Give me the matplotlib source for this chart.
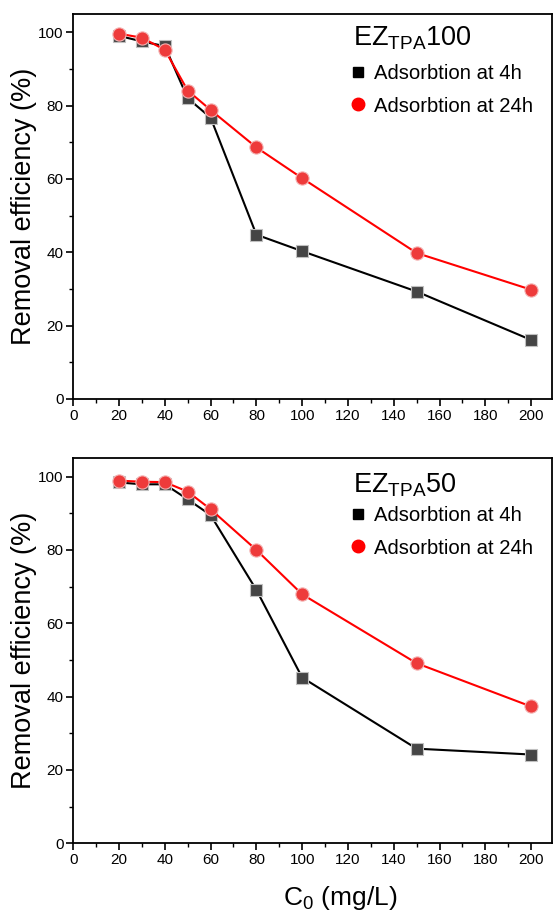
import matplotlib
matplotlib.use('Agg')
import matplotlib.pyplot as plt
from matplotlib.lines import Line2D
from matplotlib.ticker import MultipleLocator

plt.rcParams['font.family'] = ['Liberation Sans', 'DejaVu Sans']
plt.rcParams['mathtext.fontset'] = 'custom'
plt.rcParams['mathtext.rm'] = 'Liberation Sans'
plt.rcParams['mathtext.it'] = 'Liberation Sans'

# initial concentration (mg/L)
c0 = [20, 30, 40, 50, 60, 80, 100, 150, 200]

# EZ_TPA100 removal efficiency (%)
ez100_4h = [99.0, 97.5, 96.2, 82.0, 76.7, 44.8, 40.3, 29.3, 16.1]
ez100_24h = [99.6, 98.5, 95.2, 84.1, 78.8, 68.6, 60.2, 39.8, 29.8]

# EZ_TPA50 removal efficiency (%)
ez50_4h = [98.4, 97.9, 97.9, 93.8, 89.5, 69.1, 45.2, 25.8, 24.2]
ez50_24h = [98.9, 98.6, 98.5, 95.9, 91.1, 80.0, 67.9, 49.1, 37.3]

panels = [("EZ$_{\\mathrm{TPA}}$100", ez100_4h, ez100_24h),
          ("EZ$_{\\mathrm{TPA}}$50", ez50_4h, ez50_24h)]

fig = plt.figure(figsize=(5.55, 9.14), dpi=100)
positions = [[0.132, 0.5635, 0.862, 0.4213],
             [0.132, 0.0774, 0.862, 0.4212]]
# title baseline, legend top
layout = [(0.919, 0.869),
          (0.910, 0.875)]

for pos, (name, y4, y24), (ty, ly) in zip(positions, panels, layout):
    ax = fig.add_axes(pos)
    ax.plot(c0, y4, color='black', lw=1.5, marker='s', ms=8,
            mfc='#454545', mec='#c0c0c0', mew=0.8, zorder=3)
    ax.plot(c0, y24, color='#ff0000', lw=1.5, marker='o', ms=9.5,
            mfc='#ee3b3b', mec='#f4b0b0', mew=0.8, zorder=4)
    ax.set_xlim(0, 209)
    ax.set_ylim(0, 105)
    ax.xaxis.set_major_locator(MultipleLocator(20))
    ax.xaxis.set_minor_locator(MultipleLocator(10))
    ax.yaxis.set_major_locator(MultipleLocator(20))
    ax.yaxis.set_minor_locator(MultipleLocator(10))
    ax.tick_params(which='major', direction='out', length=5, width=1.2,
                   labelsize=11, pad=2)
    ax.tick_params(which='minor', direction='out', length=3, width=1.0)
    for s in ax.spines.values():
        s.set_linewidth(1.3)
    ax.set_ylabel('Removal efficiency (%)', fontsize=19.5, labelpad=0.5)

    ax.text(0.584, ty, name, transform=ax.transAxes, fontsize=19.5,
            ha='left', va='baseline')
    handles = [Line2D([], [], ls='none', marker='s', ms=7.5, mfc='black', mec='black'),
               Line2D([], [], ls='none', marker='o', ms=9, mfc='red', mec='red')]
    ax.legend(handles, ['Adsorbtion at 4h', 'Adsorbtion at 24h'],
              loc='upper left', bbox_to_anchor=(0.578, ly), frameon=False,
              fontsize=14.6, handletextpad=0.4, handlelength=0.8,
              labelspacing=0.65, borderaxespad=0, borderpad=0)

ax.set_xlabel('C$_0$ (mg/L)', fontsize=19, labelpad=12, x=0.557)

fig.savefig('out.png', dpi=100)
